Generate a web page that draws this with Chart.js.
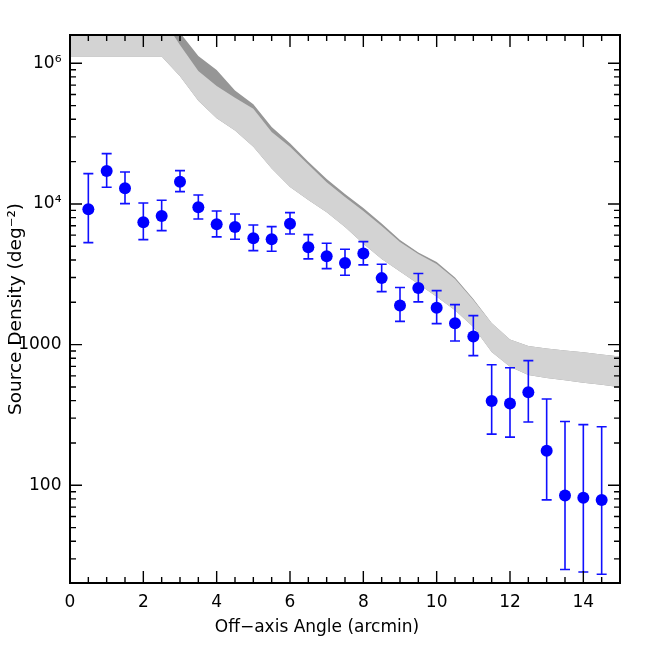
<!DOCTYPE html>
<html><head><meta charset="utf-8">
<script src="https://cdn.jsdelivr.net/npm/chart.js@4/dist/chart.umd.min.js"></script>
<style>html,body{margin:0;padding:0;background:#fff}</style>
</head><body>
<canvas id="c" width="654" height="654"></canvas>
<script>
// ---- data ----
const offAxisAngle = [0.5,1,1.5,2,2.5,3,3.5,4,4.5,5,5.5,6,6.5,7,7.5,8,8.5,9,9.5,10,10.5,11,11.5,12,12.5,13,13.5,14,14.5];
const sourceDensity = [9170,17160,12930,7410,8220,14400,9480,7180,6860,5710,5610,7240,4930,4250,3810,4440,2970,1900,2530,1830,1420,1144,397,382,459,176,84.5,81.4,78.7];
const densityUpper = [16420,22780,16880,10160,10620,17250,11590,8920,8490,7090,6900,8680,6050,5260,4760,5400,3730,2550,3200,2420,1924,1607,720,685,770,411,284,270,261];
const densityLower = [5310,13140,10050,5580,6460,12230,7820,5830,5610,4660,4610,6120,4070,3470,3110,3690,2380,1462,2012,1410,1062,835,231,220,282,78.7,25.2,24.2,23.3];

const bandAngle = [0,0.5,1,1.5,2,2.5,3,3.5,4,4.5,5,5.5,6,6.5,7,7.5,8,8.5,9,9.5,10,10.5,11,11.5,12,12.5,13,13.5,14,14.5,15];
const bandDarkUpper = [300000,300000,300000,300000,300000,300000,164900,112700,89500,64100,51200,35250,26970,19980,15060,11780,9370,7267,5545,4519,3873,3003,2113,1426,1089,979,940,910,881,852,824];
const bandLightUpper = [213000,213000,213000,213000,213000,213000,134900,88300,69000,56900,47500,32500,25500,19100,14240,11220,8920,6975,5370,4413,3746,2931,2078,1426,1089,979,940,910,881,852,824];
const bandLightLower = [111700,111700,111700,111700,111700,111700,80900,54100,40600,33300,25500,17900,13210,10670,8730,6870,5210,4065,3305,2697,2193,1754,1337,887,695,609,580,557,535,518,498];

const xMajorTicks = [0,2,4,6,8,10,12,14];
const xMinorTicks = [0.5,1,1.5,2.5,3,3.5,4.5,5,5.5,6.5,7,7.5,8.5,9,9.5,10.5,11,11.5,12.5,13,13.5,14.5];
const yMajorTicks = [100,1000,10000,100000];
const yTickLabels = ['100','1000','10⁴','10⁶'];
const yMinorTicks = [30,40,50,60,70,80,90,200,300,400,500,600,700,800,900,2000,3000,4000,5000,6000,7000,8000,9000,20000,30000,40000,50000,60000,70000,80000,90000];

const FONT = 'DejaVu Sans';
const pts = (xs, ys) => xs.map((x, i) => ({x: x, y: ys[i]}));

const axesPlugin = {
  id: 'axesPlugin',
  beforeDatasetDraw(chart, args) {
    if (args.index !== 3) return;
    const {ctx, scales: {x, y}} = chart;
    ctx.save();
    ctx.strokeStyle = '#1010ff';
    ctx.lineWidth = 1.6;
    offAxisAngle.forEach((a, i) => {
      const px = x.getPixelForValue(a);
      const yt = y.getPixelForValue(densityUpper[i]);
      const yb = y.getPixelForValue(densityLower[i]);
      ctx.beginPath();
      ctx.moveTo(px, yt); ctx.lineTo(px, yb);
      ctx.moveTo(px - 5, yt); ctx.lineTo(px + 5, yt);
      ctx.moveTo(px - 5, yb); ctx.lineTo(px + 5, yb);
      ctx.stroke();
    });
    ctx.restore();
  },
  afterDatasetsDraw(chart) {
    const {ctx, chartArea: {left, right, top, bottom}, scales: {x, y}} = chart;
    ctx.save();
    ctx.strokeStyle = '#000';
    ctx.lineWidth = 1.4;
    ctx.beginPath();
    const xt = (v, len) => { const p = x.getPixelForValue(v); ctx.moveTo(p, bottom); ctx.lineTo(p, bottom - len); ctx.moveTo(p, top); ctx.lineTo(p, top + len); };
    const yt = (v, len) => { const p = y.getPixelForValue(v); ctx.moveTo(left, p); ctx.lineTo(left + len, p); ctx.moveTo(right, p); ctx.lineTo(right - len, p); };
    xMajorTicks.forEach(v => xt(v, 12));
    xMinorTicks.forEach(v => xt(v, 6));
    yMajorTicks.forEach(v => yt(v, 12));
    yMinorTicks.forEach(v => yt(v, 6));
    ctx.stroke();
    ctx.lineWidth = 2;
    ctx.strokeRect(left, top, right - left, bottom - top);
    ctx.restore();
  }
};

new Chart(document.getElementById('c'), {
  type: 'scatter',
  data: {
    datasets: [
      {label: 'band dark', data: pts(bandAngle, bandDarkUpper), showLine: true, pointRadius: 0, borderWidth: 0, borderColor: 'rgba(0,0,0,0)', backgroundColor: 'rgb(150,150,150)', fill: 2, order: 5, tension: 0},
      {label: 'band light', data: pts(bandAngle, bandLightUpper), showLine: true, pointRadius: 0, borderWidth: 0, borderColor: 'rgba(0,0,0,0)', backgroundColor: 'rgb(211,211,211)', fill: 2, order: 4, tension: 0},
      {label: 'band lower', data: pts(bandAngle, bandLightLower), showLine: true, pointRadius: 0, borderWidth: 0, borderColor: 'rgba(0,0,0,0)', fill: false, order: 3, tension: 0},
      {label: 'sources', data: pts(offAxisAngle, sourceDensity), pointRadius: 6, pointHoverRadius: 6, backgroundColor: '#0000ff', borderWidth: 0, order: 0}
    ]
  },
  options: {
    responsive: false,
    devicePixelRatio: 1,
    animation: false,
    events: [],
    layout: {padding: {left: 14, right: 34, top: 35, bottom: 15.8}},
    plugins: {
      legend: {display: false},
      tooltip: {enabled: false},
      title: {display: true, position: 'bottom', fullSize: true, text: 'Off−axis Angle (arcmin)', color: '#000', font: {family: FONT, size: 17, weight: 'normal'}, padding: {top: 0, bottom: 0}}
    },
    scales: {
      x: {
        type: 'linear', position: 'bottom', min: 0, max: 15,
        grid: {display: false, drawTicks: false}, border: {display: false},
        ticks: {color: '#000', font: {family: FONT, size: 17}, padding: 9, autoSkip: false, maxRotation: 0},
        afterBuildTicks: s => { s.ticks = xMajorTicks.map(v => ({value: v})); },
        afterFit: s => { s.height = 34.8; }
      },
      y: {
        type: 'logarithmic', position: 'left', min: 20.2, max: 158900,
        grid: {display: false, drawTicks: false}, border: {display: false},
        ticks: {color: '#000', font: {family: FONT, size: 17}, padding: 8.5, autoSkip: false,
          callback: v => { const i = yMajorTicks.indexOf(v); return i >= 0 ? yTickLabels[i] : ''; }},
        afterBuildTicks: s => { s.ticks = yMajorTicks.map(v => ({value: v})); },
        afterFit: s => { s.width = 56; },
        title: {display: true, text: 'Source Density (deg⁻²)', color: '#000', font: {family: FONT, size: 18.5}, padding: {top: -8.5, bottom: 0}}
      }
    }
  },
  plugins: [axesPlugin]
});
</script>
</body></html>
